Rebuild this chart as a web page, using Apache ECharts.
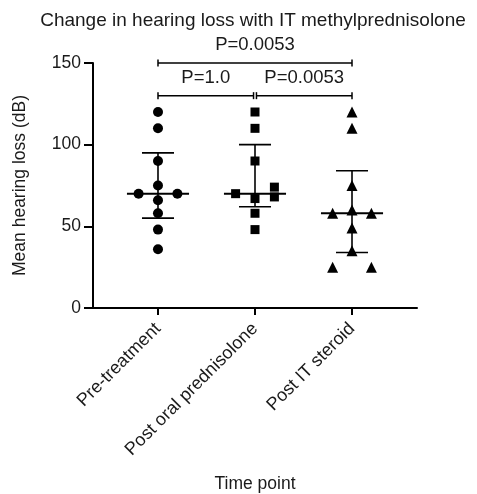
<!DOCTYPE html>
<html>
<head>
<meta charset="utf-8">
<script src="https://cdn.jsdelivr.net/npm/echarts@6/dist/echarts.min.js"></script>
<style>
  html, body { margin: 0; padding: 0; background: #fff; }
  #chart-area { width: 477px; height: 494px; }
</style>
</head>
<body>
<div id="chart-area"></div>
<script>
// categories on the x axis (placed at 1, 2, 3)
const categories = ['Pre-treatment', 'Post oral prednisolone', 'Post IT steroid'];

// individual patient values (dB)
const preValues = [120, 110, 90, 75, 70, 70, 66, 58, 48, 36];
const oralValues = [120, 110, 90, 70, 74, 68, 67, 58, 48];
const itValues = [120, 110, 75, 60, 58, 58, 49, 35, 25, 25];

// which column a dot sits in when dots overlap (-1 left, 0 middle, 1 right)
const preColumns = [0, 0, 0, 0, -1, 1, 0, 0, 0, 0];
const oralColumns = [0, 0, 0, -1, 1, 1, 0, 0, 0];
const itColumns = [0, 0, 0, 0, -1, 1, 0, 0, -1, 1];

// median and interquartile bars
const medians = [70, 70, 58];
const upperBars = [95, 100, 84];
const lowerBars = [55, 62, 34];

// comparison brackets: from, to, height, label
const bracketFrom = [1, 1, 2];
const bracketTo = [3, 2, 3];
const bracketLevel = [150, 130, 130];
const bracketLabels = ['P=0.0053', 'P=1.0', 'P=0.0053'];

const FONT = "'Liberation Sans', Arial, Helvetica, sans-serif";
const INK = '#1a1a1a';
const FS = 17.5;
const JITTER = 0.2;

function points(values, columns, pos) {
	return values.map((v, i) => [pos + columns[i] * JITTER, v]);
}

const myChart = echarts.init(document.getElementById('chart-area'));

const option = {
	animation: false,
	title: {
		text: 'Change in hearing loss with IT methylprednisolone',
		left: 248,
		top: 6,
		textAlign: 'center',
		textStyle: { fontFamily: FONT, fontSize: 19, fontWeight: 'normal', color: INK }
	},
	grid: { left: 93, right: 60, top: 63, bottom: 186, outerBoundsMode: 'none', containLabel: false },
	xAxis: {
		type: 'value',
		min: 0.33,
		max: 3.67,
		splitLine: { show: false },
		axisLine: { show: true, lineStyle: { color: '#000', width: 2 } },
		axisTick: { show: true, customValues: [1, 2, 3], length: 7, lineStyle: { color: '#000', width: 2 } },
		axisLabel: {
			customValues: [1, 2, 3],
			formatter: (v) => categories[Math.round(v) - 1],
			rotate: 45,
			margin: 18,
			fontFamily: FONT,
			fontSize: 18,
			color: INK
		},
		name: 'Time point',
		nameLocation: 'middle',
		nameGap: 167,
		nameTextStyle: { fontFamily: FONT, fontSize: FS, color: INK }
	},
	yAxis: {
		type: 'value',
		min: 0,
		max: 150,
		interval: 50,
		splitLine: { show: false },
		axisLine: { show: true, lineStyle: { color: '#000', width: 2 } },
		axisTick: { show: true, length: 9, lineStyle: { color: '#000', width: 2 } },
		axisLabel: { margin: 12, fontFamily: FONT, fontSize: FS, color: INK },
		name: 'Mean hearing loss (dB)',
		nameLocation: 'middle',
		nameRotate: 90,
		nameGap: 64,
		nameTextStyle: { fontFamily: FONT, fontSize: FS, color: INK }
	},
	series: [
		{
			// median line + IQR whiskers
			type: 'custom',
			z: 2,
			data: medians.map((m, i) => [i + 1, m, lowerBars[i], upperBars[i]]),
			renderItem: (params, api) => {
				const x = api.value(0);
				const mid = api.coord([x, api.value(1)]);
				const lo = api.coord([x, api.value(2)]);
				const hi = api.coord([x, api.value(3)]);
				const halfMed = api.size([0.32, 0])[0];
				const halfCap = api.size([0.165, 0])[0];
				const st = { stroke: '#000', lineWidth: 2 };
				const st2 = { stroke: '#000', lineWidth: 1.6 };
				return {
					type: 'group',
					children: [
						{ type: 'line', shape: { x1: mid[0] - halfMed, y1: mid[1], x2: mid[0] + halfMed, y2: mid[1] }, style: st },
						{ type: 'line', shape: { x1: lo[0], y1: lo[1], x2: hi[0], y2: hi[1] }, style: st2 },
						{ type: 'line', shape: { x1: hi[0] - halfCap, y1: hi[1], x2: hi[0] + halfCap, y2: hi[1] }, style: st2 },
						{ type: 'line', shape: { x1: lo[0] - halfCap, y1: lo[1], x2: lo[0] + halfCap, y2: lo[1] }, style: st2 }
					]
				};
			}
		},
		{
			// significance brackets
			type: 'custom',
			clip: false,
			z: 2,
			data: bracketLabels.map((t, i) => [bracketFrom[i], bracketTo[i], bracketLevel[i]]),
			renderItem: (params, api) => {
				const a = api.value(0), b = api.value(1), lvl = api.value(2);
				const label = bracketLabels[params.dataIndex];
				// tiny gap where two brackets meet on the same level
				const shrinkA = bracketFrom.some((f, j) => j !== params.dataIndex && bracketTo[j] === a && bracketLevel[j] === lvl) ? 0.015 : 0;
				const shrinkB = bracketTo.some((t, j) => j !== params.dataIndex && bracketFrom[j] === b && bracketLevel[j] === lvl) ? 0.015 : 0;
				const p1 = api.coord([a + shrinkA, lvl]);
				const p2 = api.coord([b - shrinkB, lvl]);
				const st = { stroke: '#000', lineWidth: 1.5 };
				return {
					type: 'group',
					children: [
						{ type: 'line', shape: { x1: p1[0], y1: p1[1], x2: p2[0], y2: p2[1] }, style: st },
						{ type: 'line', shape: { x1: p1[0], y1: p1[1] - 3.5, x2: p1[0], y2: p1[1] + 3.5 }, style: st },
						{ type: 'line', shape: { x1: p2[0], y1: p2[1] - 3.5, x2: p2[0], y2: p2[1] + 3.5 }, style: st },
						{
							type: 'text',
							x: (p1[0] + p2[0]) / 2,
							y: p1[1] - 18,
							style: { text: label, align: 'center', verticalAlign: 'middle', fontFamily: FONT, fontSize: 18.5, fill: INK }
						}
					]
				};
			}
		},
		{
			name: categories[0],
			type: 'scatter',
			z: 3,
			symbol: 'circle',
			symbolSize: 10,
			itemStyle: { color: '#000', opacity: 1 },
			data: points(preValues, preColumns, 1)
		},
		{
			name: categories[1],
			type: 'scatter',
			z: 3,
			symbol: 'rect',
			symbolSize: 9,
			itemStyle: { color: '#000', opacity: 1 },
			data: points(oralValues, oralColumns, 2)
		},
		{
			name: categories[2],
			type: 'scatter',
			z: 3,
			symbol: 'triangle',
			symbolSize: 11,
			itemStyle: { color: '#000', opacity: 1 },
			data: points(itValues, itColumns, 3)
		}
	]
};

option && myChart.setOption(option);
</script>
</body>
</html>
